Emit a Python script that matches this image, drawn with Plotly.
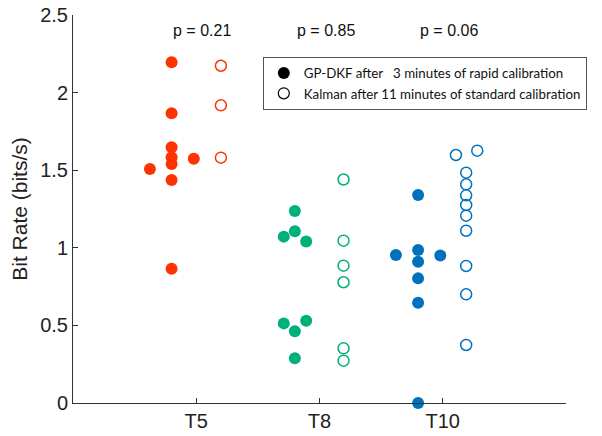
import plotly.graph_objects as go

# ---- data ----
groups = ["T5", "T8", "T10"]
group_pos = [1, 2, 3]
p_values = ["p = 0.21", "p = 0.85", "p = 0.06"]

gp_t5 = [2.195, 1.867, 1.648, 1.583, 1.540, 1.508, 1.574, 1.437, 0.865]
gp_t5_off = [-0.2, -0.2, -0.2, -0.2, -0.2, -0.376, -0.02, -0.2, -0.2]
kal_t5 = [2.173, 1.918, 1.581]
kal_t5_off = [0.2, 0.2, 0.2]

gp_t8 = [1.237, 1.106, 1.072, 1.040, 0.530, 0.513, 0.462, 0.288]
gp_t8_off = [-0.2, -0.2, -0.29, -0.108, -0.108, -0.29, -0.2, -0.2]
kal_t8 = [1.44, 1.046, 0.885, 0.778, 0.352, 0.273]
kal_t8_off = [0.195, 0.195, 0.195, 0.195, 0.195, 0.195]

gp_t10 = [1.340, 0.986, 0.954, 0.951, 0.910, 0.803, 0.646, 0.0]
gp_t10_off = [-0.2, -0.2, -0.38, -0.02, -0.2, -0.2, -0.2, -0.2]
kal_t10 = [1.626, 1.598, 1.484, 1.409, 1.338, 1.276, 1.207, 1.110, 0.883, 0.700, 0.374]
kal_t10_off = [0.28, 0.107, 0.19, 0.19, 0.19, 0.19, 0.19, 0.19, 0.19, 0.19, 0.19]

colors = ["#FF3300", "#00B07A", "#0072BD"]
gp_vals = [gp_t5, gp_t8, gp_t10]
gp_offs = [gp_t5_off, gp_t8_off, gp_t10_off]
kal_vals = [kal_t5, kal_t8, kal_t10]
kal_offs = [kal_t5_off, kal_t8_off, kal_t10_off]

legend_labels = ["GP-DKF after\u00a0\u00a0\u00a03 minutes of rapid calibration",
                 "Kalman after 11 minutes of standard calibration"]

fig = go.Figure()
for i in range(3):
    fig.add_trace(go.Scatter(
        x=[group_pos[i] + o for o in gp_offs[i]], y=gp_vals[i], mode="markers",
        marker=dict(size=12, color=colors[i], line=dict(width=0)),
        showlegend=False, cliponaxis=False))
    fig.add_trace(go.Scatter(
        x=[group_pos[i] + o for o in kal_offs[i]], y=kal_vals[i], mode="markers",
        marker=dict(symbol="circle-open", size=11, color=colors[i], line=dict(width=1.5)),
        showlegend=False, cliponaxis=False))

fig.add_trace(go.Scatter(x=[None], y=[None], mode="markers", name=legend_labels[0],
                         marker=dict(size=12, color="black")))
fig.add_trace(go.Scatter(x=[None], y=[None], mode="markers", name=legend_labels[1],
                         marker=dict(symbol="circle-open", size=11, color="black", line=dict(width=1.2))))

for i in range(3):
    fig.add_annotation(x=group_pos[i] + 0.05, y=2.40, text=p_values[i], showarrow=False,
                       font=dict(family="Liberation Sans", size=16, color="#111"))

fig.update_layout(
    width=594, height=428,
    margin=dict(l=65, r=36, t=7, b=33),
    paper_bgcolor="white", plot_bgcolor="white",
    font=dict(family="Liberation Sans", color="#222"),
    legend=dict(x=0.385, y=0.892, xanchor="left", yanchor="top",
                bordercolor="#555", borderwidth=1, bgcolor="white",
                font=dict(family="Lato", size=13.3, color="#111"),
                itemwidth=30),
)
fig.update_xaxes(range=[0, 4], tickvals=group_pos, ticktext=groups, ticks="inside",
                 ticklen=5, tickcolor="#333", showline=True, linecolor="#333", linewidth=1,
                 showgrid=False, zeroline=False, tickfont=dict(size=20, color="#222"),
                 automargin=False)
fig.update_yaxes(range=[0, 2.5], tickvals=[0, 0.5, 1, 1.5, 2, 2.5],
                 ticktext=["0", "0.5", "1", "1.5", "2", "2.5"], ticks="inside",
                 ticklen=5, tickcolor="#333", showline=True, linecolor="#333", linewidth=1,
                 showgrid=False, zeroline=False, tickfont=dict(size=20, color="#222"),
                 ticklabeloverflow="allow",
                 title=dict(text="Bit Rate (bits/s)", font=dict(size=21, color="#222"), standoff=8),
                 automargin=False)

fig.write_html("out.html")
